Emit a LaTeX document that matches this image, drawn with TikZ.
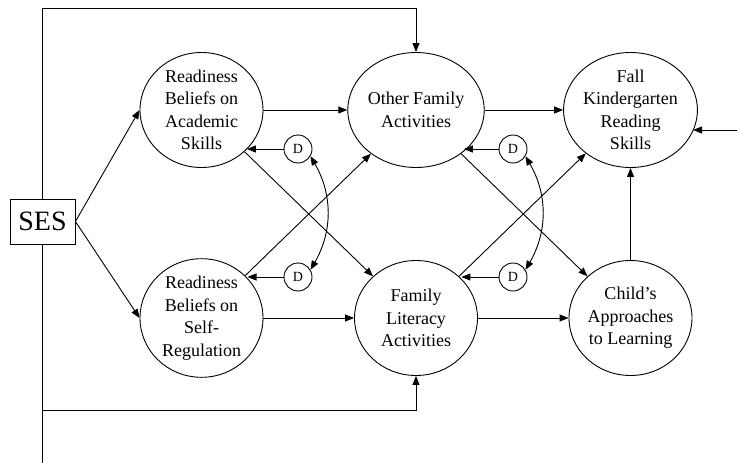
\documentclass[tikz,border=0pt]{standalone}
\usepackage{fontspec}
\setmainfont{Liberation Serif}
\usetikzlibrary{arrows.meta,shapes.geometric}
\begin{document}
\begin{tikzpicture}[x=1pt,y=-1pt,
  lw/.style={line width=0.9pt},
  arr/.style={lw,-{Triangle[length=9pt,width=7pt]}},
  darr/.style={lw,{Triangle[length=9pt,width=7pt]}-{Triangle[length=9pt,width=7pt]}},
  bubble/.style={draw,lw,ellipse,minimum width=123pt,minimum height=115pt,inner sep=0pt,align=center,font=\fontsize{18}{22.5}\selectfont},
  dnode/.style={draw,lw,circle,minimum size=28pt,inner sep=0pt,font=\fontsize{14}{16}\selectfont},
  sesbox/.style={draw,lw,minimum width=65pt,minimum height=45pt,inner sep=0pt,font=\fontsize{28}{30}\selectfont}]
\useasboundingbox (0,0) rectangle (737,471);
\node[sesbox] (ses) at (42.5,221.5) {SES};
\node[bubble] (acad) at (201.5,110) {Readiness\\Beliefs on\\Academic\\Skills};
\node[bubble] (other) at (416,110) {Other Family\\Activities};
\node[bubble] (fall) at (630.5,110) {Fall\\Kindergarten\\Reading\\Skills};
\node[bubble] (selfreg) at (201.5,318) {Readiness\\Beliefs on\\Self-\\Regulation};
\node[bubble] (famlit) at (416,318) {Family\\Literacy\\Activities};
\node[bubble] (child) at (630.5,318) {Child’s\\Approaches\\to Learning};
\node[dnode] (d1) at (298,149) {D};
\node[dnode] (d2) at (298,277) {D};
\node[dnode] (d3) at (513,149) {D};
\node[dnode] (d4) at (513,277) {D};
\coordinate (topy) at (0,8);
\coordinate (boty) at (0,410);
\coordinate (endc) at (42.5,463);
\coordinate (ext) at (737,130);
% SES paths
\draw[arr] (ses.north) |- (other.north |- topy) -- (other.north);
\draw[arr] (ses.south) |- (famlit.south |- boty) -- (famlit.south);
\draw[lw] (ses.south) -- (endc);
\draw[arr] (ses.east) -- (acad.west);
\draw[arr] (ses.east) -- (selfreg.west);
% horizontal
\draw[arr] (acad) -- (other);
\draw[arr] (other) -- (fall);
\draw[arr] (selfreg) -- (famlit);
\draw[arr] (famlit) -- (child);
\draw[arr] (child) -- (fall);
\draw[arr] (ext) -- (ext -| fall.-19);
% diagonals
\draw[arr] (acad) -- (famlit);
\draw[arr] (selfreg) -- (other);
\draw[arr] (other) -- (child);
\draw[arr] (famlit) -- (fall);
% disturbances
\draw[arr] (d1.west) -- (d1.west -| acad.-41);
\draw[arr] (d2.west) -- (d2.west -| selfreg.41);
\draw[arr] (d3.west) -- (d3.west -| other.-41);
\draw[arr] (d4.west) -- (d4.west -| famlit.41);
\draw[darr] (d1.-30) to[out=-60,in=60] (d2.30);
\draw[darr] (d3.-30) to[out=-60,in=60] (d4.30);
\end{tikzpicture}
\end{document}
